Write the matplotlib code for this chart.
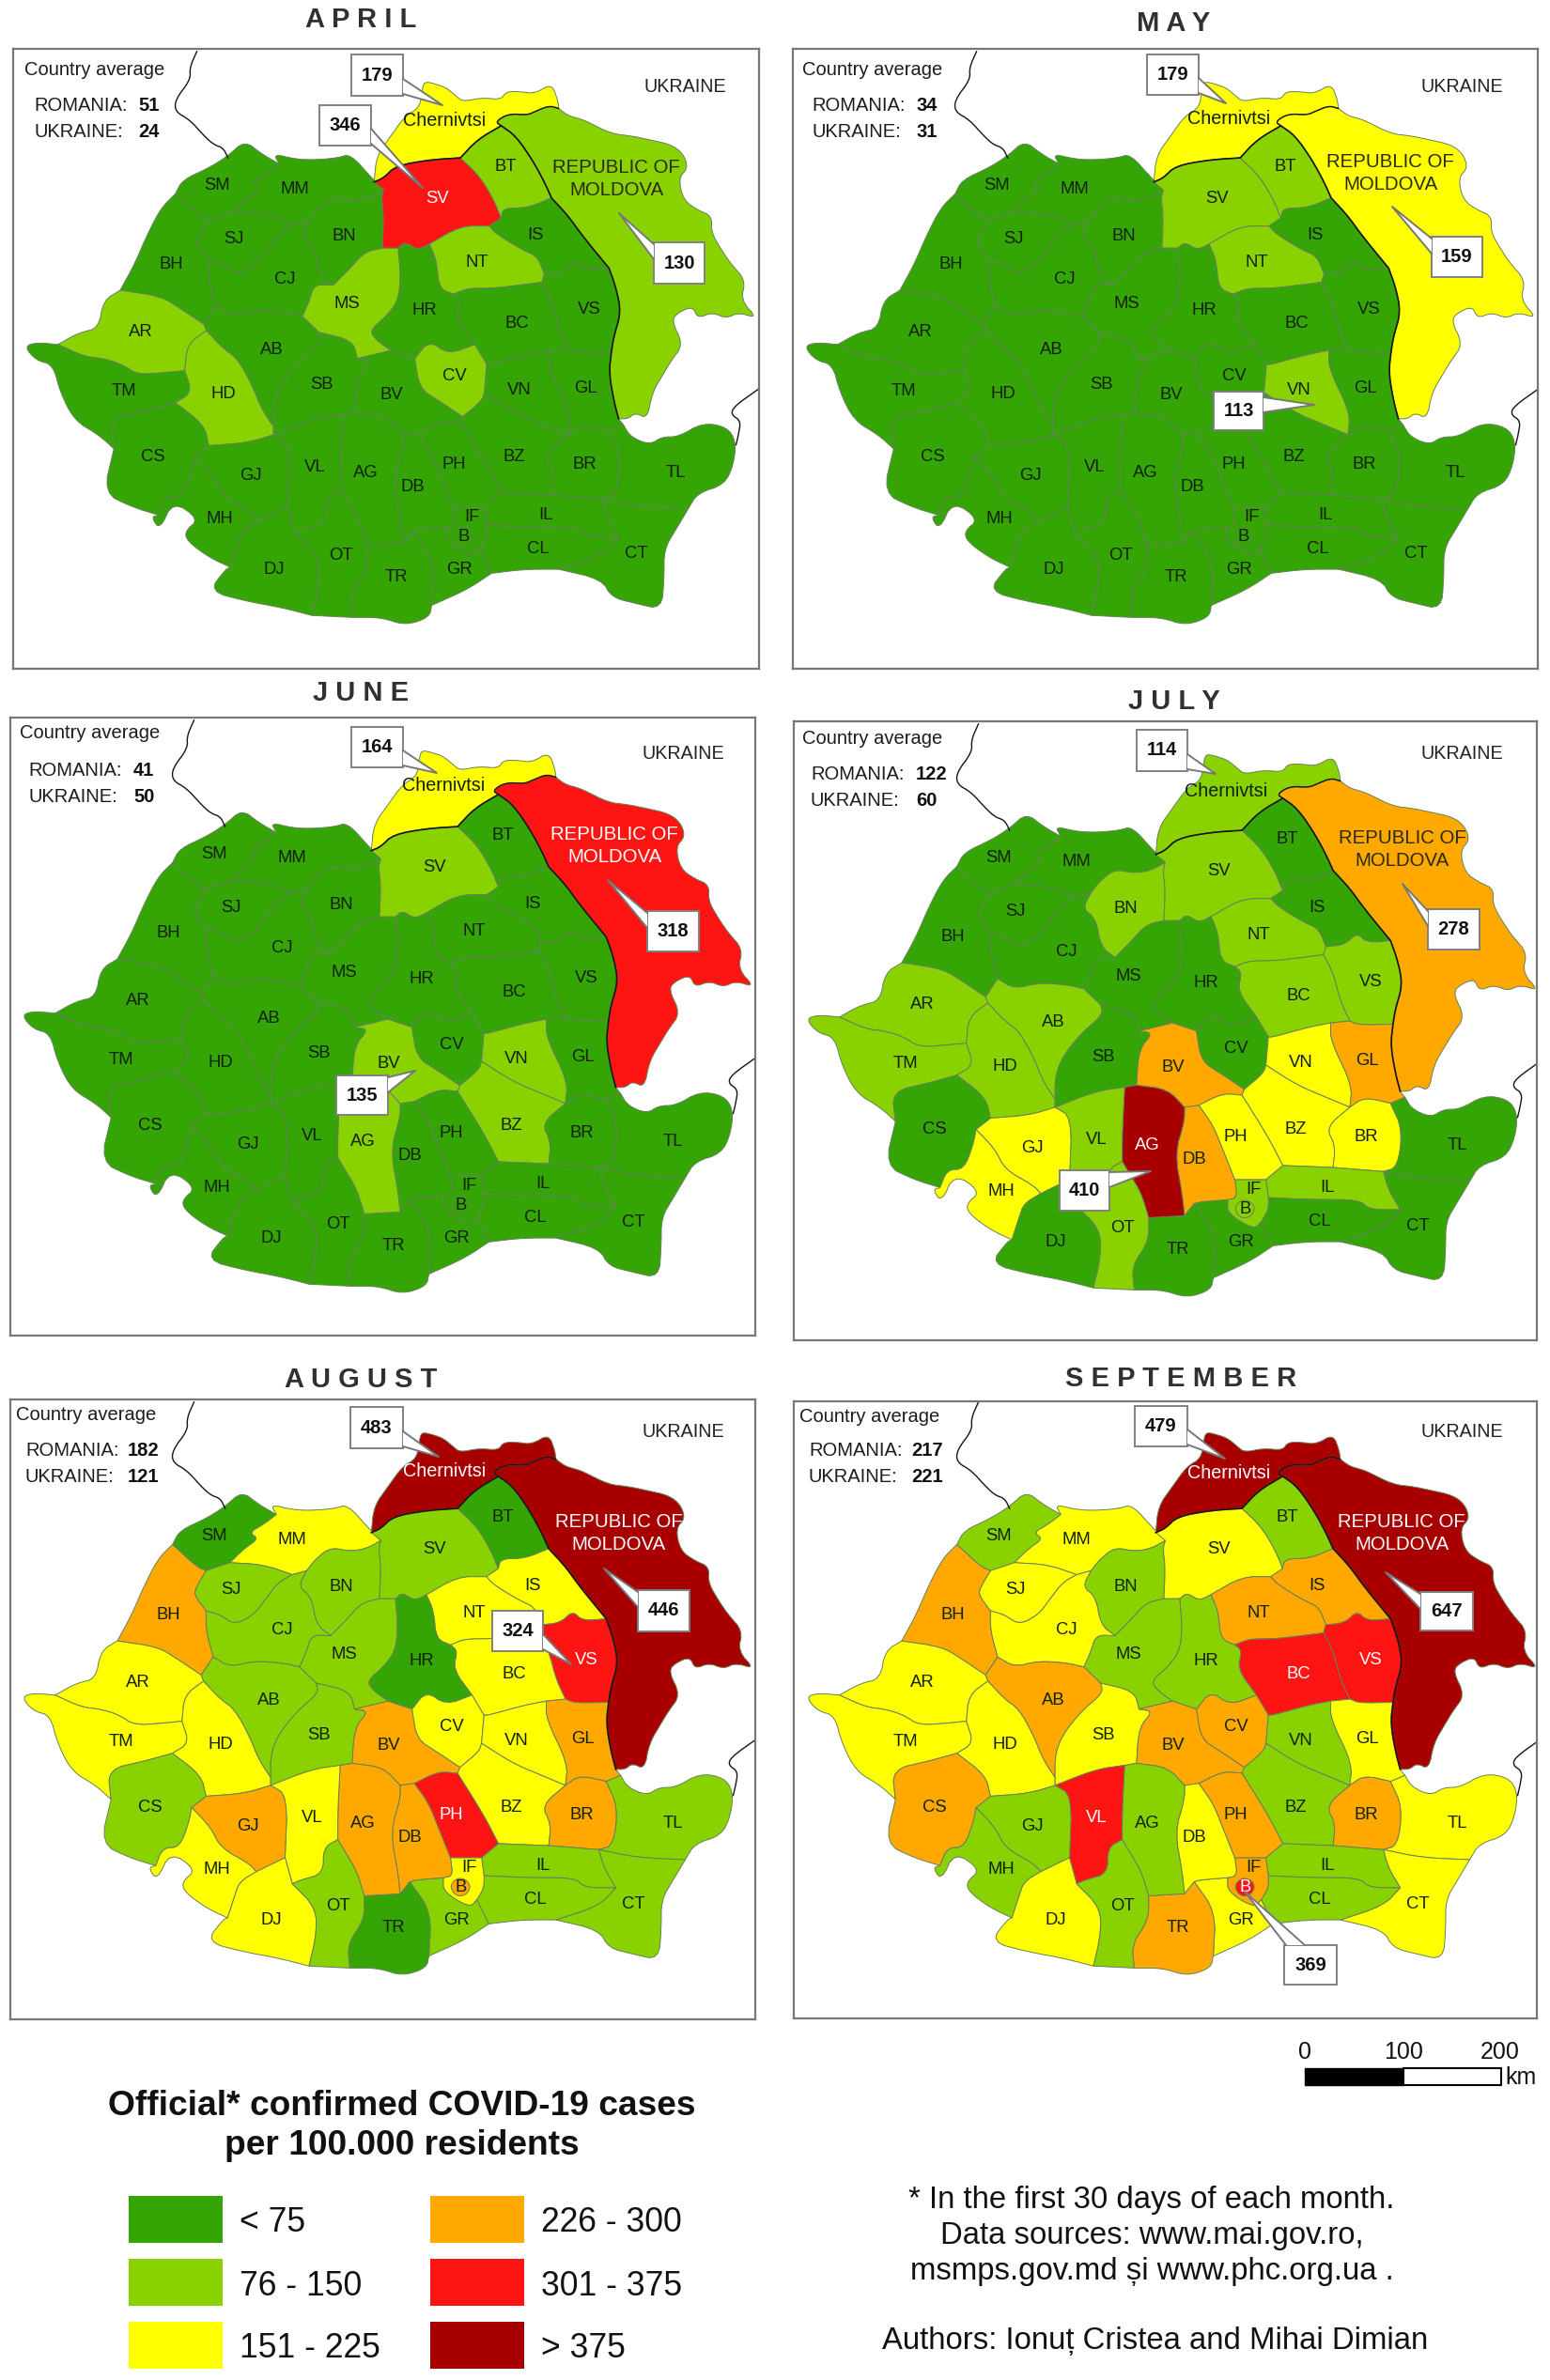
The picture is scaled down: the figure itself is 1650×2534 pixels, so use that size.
import matplotlib
matplotlib.use("Agg")
import matplotlib.pyplot as plt
from matplotlib.collections import PolyCollection
from matplotlib.colors import ListedColormap, BoundaryNorm
from matplotlib.patches import Polygon, Rectangle

plt.rcParams['font.family'] = ['Liberation Sans', 'DejaVu Sans']

W, H = 1650, 2534

# classes of the legend
BAND_LABELS = ["< 75", "76 - 150", "151 - 225", "226 - 300", "301 - 375", "> 375"]
BAND_COLORS = ["#35a505", "#8ad100", "#ffff00", "#ffa800", "#ff1414", "#a80000"]

MONTHS = ["APRIL", "MAY", "JUNE", "JULY", "AUGUST", "SEPTEMBER"]
ROMANIA_AVG = [51, 34, 41, 122, 182, 217]
UKRAINE_AVG = [24, 31, 50, 60, 121, 221]

NAMES = ["MD", "CV_UA", "SM", "MM", "BN", "SV", "BT", "IS", "NT", "VS", "BC", "HR", "MS", "SJ", "CJ", "BH",
         "AR", "TM", "HD", "AB", "SB", "BV", "CV", "VN", "BZ", "GL", "BR", "TL", "CT", "IL", "CL", "IF",
         "GR", "TR", "DB", "PH", "AG", "VL", "GJ", "CS", "MH", "DJ", "OT", "B"]

#             MD CU SM MM BN SV BT IS NT VS BC HR MS SJ CJ BH AR TM HD AB SB BV CV VN BZ GL BR TL CT IL CL IF GR TR DB PH AG VL GJ CS MH DJ OT B
APRIL_BAND = [1, 2, 0, 0, 0, 4, 1, 0, 1, 0, 0, 0, 1, 0, 0, 0, 1, 0, 1, 0, 0, 0, 1, 0, 0, 0, 0, 0, 0, 0, 0, 0, 0, 0, 0, 0, 0, 0, 0, 0, 0, 0, 0, 0]
MAY_BAND =   [2, 2, 0, 0, 0, 1, 1, 0, 1, 0, 0, 0, 0, 0, 0, 0, 0, 0, 0, 0, 0, 0, 0, 1, 0, 0, 0, 0, 0, 0, 0, 0, 0, 0, 0, 0, 0, 0, 0, 0, 0, 0, 0, 0]
JUNE_BAND =  [4, 2, 0, 0, 0, 1, 0, 0, 0, 0, 0, 0, 0, 0, 0, 0, 0, 0, 0, 0, 0, 1, 0, 1, 1, 0, 0, 0, 0, 0, 0, 0, 0, 0, 0, 0, 1, 0, 0, 0, 0, 0, 0, 0]
JULY_BAND =  [3, 1, 0, 0, 1, 1, 0, 0, 1, 1, 1, 0, 0, 0, 0, 0, 1, 1, 1, 1, 0, 3, 0, 2, 2, 3, 2, 0, 0, 1, 0, 1, 0, 0, 3, 2, 5, 1, 2, 0, 2, 0, 1, 1]
AUG_BAND =   [5, 5, 0, 2, 1, 1, 0, 2, 2, 4, 2, 0, 1, 1, 1, 3, 2, 2, 2, 1, 1, 3, 2, 2, 2, 3, 3, 1, 1, 1, 1, 2, 1, 0, 3, 4, 3, 2, 3, 1, 2, 2, 1, 3]
SEP_BAND =   [5, 5, 1, 2, 1, 2, 1, 3, 3, 4, 4, 1, 1, 2, 2, 3, 2, 2, 2, 3, 2, 3, 3, 1, 1, 2, 3, 2, 2, 1, 1, 3, 2, 3, 2, 3, 1, 4, 1, 3, 1, 2, 1, 4]
MONTH_BANDS = [APRIL_BAND, MAY_BAND, JUNE_BAND, JULY_BAND, AUG_BAND, SEP_BAND]

# callouts: value, box (left, right, top, bottom), tip, all in picture pixels
CALLOUTS = [
    [(179, 374, 429, 58, 102, 471, 112), (346, 340, 395, 112, 155, 450, 200), (130, 696, 750, 258, 302, 659, 227)],
    [(179, 1221, 1276, 58, 101, 1305, 110), (159, 1524, 1578, 252, 295, 1482, 220), (113, 1292, 1345, 417, 458, 1399, 431)],
    [(164, 374, 429, 774, 817, 465, 823), (318, 689, 744, 970, 1013, 647, 937), (135, 358, 413, 1145, 1187, 442, 1140)],
    [(114, 1210, 1264, 777, 821, 1294, 824), (278, 1520, 1575, 968, 1011, 1493, 941), (410, 1128, 1181, 1246, 1289, 1225, 1247)],
    [(483, 373, 429, 1498, 1542, 467, 1551), (446, 679, 734, 1693, 1737, 643, 1670), (324, 524, 578, 1715, 1758, 608, 1772)],
    [(479, 1208, 1264, 1497, 1540, 1304, 1553), (647, 1512, 1568, 1695, 1736, 1475, 1674), (369, 1367, 1423, 2071, 2113, 1325, 2014)],
]

# county outlines, traced on the September panel
SHAPES = {
    "MD": [(1030,215),(1018,205),(1045,185),(1085,188),(1100,180),(1130,165),(1150,172),(1170,190),(1195,198),(1210,205),(1260,235),(1300,240),(1340,250),
           (1385,262),(1410,285),(1420,320),(1400,345),(1410,400),(1440,425),(1470,440),(1468,480),(1490,525),(1510,560),(1540,600),(1530,650),(1565,695),
           (1525,680),(1500,695),(1470,680),(1440,695),(1430,665),(1400,680),(1385,700),(1410,760),(1385,800),(1370,830),(1345,880),(1335,945),(1310,930),(1295,945),
           (1275,945),(1265,900),(1255,830),(1260,778),(1265,740),(1280,680),(1270,620),(1255,570),(1200,490),(1170,440),(1135,395),(1120,355),(1095,300),(1060,240)],
    "CV_UA": [(865,125),(870,105),(890,110),(915,120),(935,140),(950,155),(990,145),(1030,150),(1040,130),(1070,130),(1100,135),(1135,110),(1148,150),(1150,172),(1130,165),
              (1100,180),(1085,188),(1045,185),(1018,205),(1030,215),(980,250),(945,295),(880,300),(810,315),(785,345),(765,355),(770,290),(800,240),(830,190),(860,170)],
    "SM": [(350,385),(365,350),(420,320),(460,290),(495,252),(530,285),(567,310),(540,335),(510,355),(530,370),(500,395),(470,430),(420,450),(400,440),(355,390)],
    "MM": [(567,310),(555,285),(600,298),(640,300),(690,295),(715,285),(760,345),(785,375),(755,395),(720,402),(680,392),(650,420),(630,450),(600,460),(540,435),(470,430),(500,395),(530,370),(510,355),(540,335)],
    "BN": [(680,392),(720,402),(755,395),(785,375),(780,395),(785,440),(782,520),(745,530),(715,570),(680,612),(650,585),(640,515),(612,490),(630,450),(650,420)],
    "SV": [(785,375),(765,355),(785,345),(810,315),(880,300),(945,295),(985,340),(1015,400),(1030,445),(1005,465),(945,465),(880,510),(855,525),(830,505),(815,520),(782,520),(785,440),(780,395)],
    "BT": [(945,295),(980,250),(1030,215),(1060,240),(1095,300),(1120,355),(1135,395),(1085,420),(1035,420),(1030,445),(1015,400),(985,340)],
    "IS": [(1035,420),(1085,420),(1135,395),(1170,440),(1200,490),(1255,570),(1205,575),(1185,550),(1160,580),(1120,585),(1105,540),(1075,525),(1020,485),(1005,465),(1030,445)],
    "NT": [(880,510),(945,465),(1005,465),(1020,485),(1075,525),(1105,540),(1120,585),(1115,605),(1050,615),(1010,620),(960,620),(930,635),(900,620),(895,550)],
    "VS": [(1120,585),(1160,580),(1185,550),(1205,575),(1255,570),(1270,620),(1280,680),(1265,740),(1260,778),(1190,780),(1170,770),(1150,720),(1135,650),(1115,605)],
    "BC": [(930,635),(960,620),(1010,620),(1050,615),(1115,605),(1135,650),(1150,720),(1170,770),(1130,775),(1085,785),(1010,810),(1000,810),(975,760),(935,695),(945,650)],
    "HR": [(815,520),(830,505),(855,525),(880,510),(895,550),(900,620),(930,635),(945,650),(935,695),(975,760),(920,785),(880,750),(850,795),(800,775),(770,750),(755,725),(790,690),(815,650),(820,590)],
    "MS": [(782,520),(815,520),(820,590),(815,650),(790,690),(755,725),(770,750),(800,775),(730,795),(720,750),(650,730),(615,690),(630,650),(640,610),(680,612),(715,570),(745,530)],
    "SJ": [(400,490),(420,450),(470,430),(540,435),(600,460),(570,480),(545,520),(520,560),(480,585),(450,560),(420,550),(395,510)],
    "CJ": [(600,460),(630,450),(612,490),(640,515),(650,585),(680,612),(640,610),(630,650),(615,690),(580,680),(520,675),(470,690),(435,665),(420,600),(420,550),(450,560),(480,585),(520,560),(545,520),(570,480)],
    "BH": [(350,385),(355,390),(400,440),(420,450),(400,490),(395,510),(420,550),(420,600),(435,665),(410,710),(360,670),(320,640),(235,625),(265,560),(290,490),(320,420)],
    "AR": [(235,625),(320,640),(360,670),(410,710),(415,725),(375,760),(370,825),(330,830),(270,835),(240,810),(200,795),(160,790),(105,760),(150,730),(190,720),(200,650)],
    "TM": [(35,765),(60,755),(105,760),(160,790),(200,795),(240,810),(270,835),(330,830),(370,825),(385,880),(350,905),(290,925),(215,945),(222,1020),(190,985),(140,950),(110,880),(95,810),(60,800)],
    "HD": [(375,760),(415,725),(450,770),(480,795),(510,860),(530,920),(555,965),(555,985),(500,1005),(420,1012),(410,960),(350,905),(385,880),(370,825)],
    "AB": [(410,710),(435,665),(470,690),(520,675),(580,680),(615,690),(650,730),(655,755),(610,800),(570,860),(555,910),(555,965),(530,920),(510,860),(480,795),(450,770),(415,725)],
    "SB": [(650,730),(720,750),(730,795),(760,800),(730,840),(725,930),(700,935),(640,945),(555,985),(555,965),(555,910),(570,860),(610,800),(655,755)],
    "BV": [(730,795),(800,775),(850,795),(860,870),(900,900),(950,940),(945,955),(905,950),(855,980),(825,985),(790,940),(725,930),(730,840),(760,800)],
    "CV": [(850,795),(880,750),(920,785),(975,760),(1000,810),(995,880),(990,900),(950,940),(900,900),(860,870)],
    "VN": [(1000,810),(1010,810),(1085,785),(1130,775),(1130,820),(1175,930),(1170,985),(1120,960),(1060,930),(995,880)],
    "BZ": [(950,940),(990,900),(995,880),(1060,930),(1120,960),(1170,985),(1120,1035),(1140,1080),(1135,1135),(1030,1130),(1000,1060),(945,955)],
    "GL": [(1130,775),(1170,770),(1190,780),(1260,778),(1255,830),(1265,900),(1275,945),(1285,960),(1255,975),(1200,960),(1170,985),(1175,930),(1130,820)],
    "BR": [(1170,985),(1200,960),(1255,975),(1280,1040),(1270,1135),(1240,1145),(1135,1135),(1140,1080),(1120,1035)],
    "TL": [(1255,975),(1285,960),(1300,990),(1340,1010),(1365,990),(1400,990),(1450,955),(1500,965),(1520,1000),(1515,1060),(1495,1110),(1440,1130),(1420,1170),(1320,1165),(1240,1145),(1270,1135),(1280,1040)],
    "CT": [(1240,1145),(1320,1165),(1420,1170),(1395,1220),(1370,1270),(1370,1340),(1365,1420),(1310,1405),(1260,1390),(1240,1345),(1150,1320),(1240,1285),(1275,1240),(1250,1190)],
    "IL": [(1030,1130),(1135,1135),(1240,1145),(1250,1190),(1275,1240),(1210,1240),(1190,1215),(1090,1215),(1000,1210),(995,1165)],
    "CL": [(1000,1210),(1090,1215),(1190,1215),(1210,1240),(1275,1240),(1240,1285),(1150,1320),(1080,1320),(1010,1330),(985,1270),(1000,1240)],
    "IF": [(930,1165),(995,1165),(1000,1210),(1000,1240),(985,1270),(970,1290),(915,1250),(915,1215),(935,1210)],
    "GR": [(860,1220),(915,1215),(915,1250),(970,1290),(985,1270),(1010,1330),(960,1370),(885,1410),(890,1300),(845,1225)],
    "TR": [(825,1255),(845,1225),(890,1300),(885,1410),(880,1440),(830,1460),(780,1440),(720,1440),(715,1380),(750,1320),(750,1260)],
    "DB": [(825,985),(855,980),(885,1030),(905,1090),(930,1165),(935,1210),(915,1215),(860,1220),(845,1225),(825,1255),(820,1200),(805,1100),(825,1020)],
    "PH": [(855,980),(905,950),(945,955),(1000,1060),(1030,1130),(995,1165),(930,1165),(905,1090),(885,1030)],
    "AG": [(700,935),(725,930),(790,940),(825,985),(825,1020),(805,1100),(820,1200),(825,1255),(750,1260),(735,1200),(710,1150),(695,1120),(695,1050)],
    "VL": [(555,985),(640,945),(700,935),(695,1050),(695,1120),(665,1140),(665,1205),(620,1220),(600,1230),(585,1165),(590,1010)],
    "GJ": [(390,1040),(420,1012),(500,1005),(555,985),(590,1010),(585,1165),(525,1200),(510,1180),(450,1140),(430,1090)],
    "CS": [(215,945),(290,925),(350,905),(410,960),(420,1012),(390,1040),(385,1075),(365,1140),(330,1140),(315,1185),(260,1165),(200,1130),(222,1020)],
    "MH": [(390,1040),(430,1090),(450,1140),(510,1180),(525,1200),(490,1225),(480,1260),(465,1315),(420,1290),(375,1250),(370,1225),(400,1195),(345,1150),(318,1222),(300,1190),(315,1185),(330,1140),(365,1140),(385,1075)],
    "DJ": [(480,1260),(490,1225),(525,1200),(585,1165),(600,1230),(650,1290),(650,1360),(635,1435),(570,1415),(500,1400),(420,1375),(455,1320),(465,1315)],
    "OT": [(600,1230),(620,1220),(665,1205),(665,1140),(695,1120),(710,1150),(735,1200),(750,1260),(750,1320),(715,1380),(720,1440),(635,1435),(650,1360),(650,1290)],
    "B": [(930,1237),(937,1222),(950,1215),(965,1222),(972,1237),(965,1255),(950,1262),(937,1255)],
}

PRUT_LINE = [(765,355),(785,345),(810,315),(880,300),(945,295),(980,250),(1030,215),(1060,240),(1095,300),(1120,355),(1135,395),(1170,440),
             (1200,490),(1255,570),(1270,620),(1280,680),(1265,740),(1260,778),(1255,830),(1265,900),(1275,945)]
NORTH_LINE = [(1030,215),(1018,205),(1045,185),(1085,188),(1100,180),(1130,165),(1150,172)]
WEST_BORDER = [(395,30),(380,70),(382,100),(350,150),(350,180),(380,200),(410,240),(430,262),(450,270),(460,295)]
EAST_BORDER = [(1568,870),(1515,915),(1510,935),(1530,950),(1525,985),(1520,1010)]

LABEL_POS = {
    "SM": (437,365), "MM": (600,373), "BH": (342,560), "SJ": (472,498), "CJ": (578,597), "BN": (703,490), "SV": (897,397),
    "BT": (1040,316), "IS": (1102,488), "NT": (980,555), "MS": (708,658), "HR": (870,675), "BC": (1062,708), "VS": (1213,672),
    "AR": (278,728), "AB": (552,773), "TM": (243,876), "HD": (450,884), "SB": (656,860), "BV": (802,885), "CV": (933,838),
    "VN": (1068,875), "GL": (1207,870), "CS": (304,1040), "GJ": (508,1087), "VL": (642,1065), "AG": (748,1080), "DB": (846,1115),
    "PH": (932,1060), "BZ": (1058,1040), "BR": (1205,1058), "TL": (1395,1080), "IF": (970,1190), "IL": (1122,1185), "B": (952,1240),
    "MH": (443,1195), "DJ": (556,1320), "OT": (695,1285), "TR": (812,1340), "GR": (943,1320), "CL": (1107,1270), "CT": (1312,1280),
}


def to_map(pts):
    # trace coordinates to September panel pixels
    return [(840 + x / 1.96, 1480 + y / 2.34) for x, y in pts]


# a vertex with more than two neighbours is a junction of borders and must not move
neighbours = {}
for shape in SHAPES.values():
    for k, p in enumerate(shape):
        neighbours.setdefault(p, set()).update([shape[k - 1], shape[(k + 1) % len(shape)]])
FIXED = {p for p, near in neighbours.items() if len(near) > 2}


def smooth(pts, closed=True, passes=2):
    # corner cutting, so the hand traced borders are not angular
    for _ in range(passes):
        out = []
        n = len(pts)
        for k in range(n if closed else n - 1):
            p, q = pts[k], pts[(k + 1) % n]
            if p in FIXED or (not closed and k == 0):
                out.append(p)
            out.append((p[0] + (q[0] - p[0]) * 0.25, p[1] + (q[1] - p[1]) * 0.25))
            out.append((p[0] + (q[0] - p[0]) * 0.75, p[1] + (q[1] - p[1]) * 0.75))
        if not closed:
            out.append(pts[-1])
        pts = out
    return pts


# frame left, right, top, bottom and map shift of each panel
FRAMES = [(14, 808, 52, 712), (844, 1637, 52, 712), (11, 804, 764, 1422), (845, 1636, 768, 1427), (11, 804, 1490, 2150), (845, 1636, 1492, 2149)]
SHIFTS = [(-832, -1438), (-2, -1438), (-835, -726), (0, -722), (-835, 0), (0, 0)]
TITLE_POS = [(384, 21), (1249, 25), (384, 738), (1250, 747), (384, 1469), (1257, 1468)]
# left of text, left of value, y of heading, y of the two lines
AVG_POS = [(26, 36, 147, 75, 112, 140), (854, 864, 975, 74, 112, 140), (21, 30, 142, 781, 820, 849),
           (854, 863, 975, 786, 825, 852), (17, 27, 136, 1507, 1545, 1573), (851, 861, 970, 1508, 1545, 1573)]
UKRAINE_POS = [(729, 93), (1556, 92), (727, 803), (1556, 802), (727, 1524), (1556, 1525)]
MOLDOVA_POS = [(656, 179), (1480, 172), (654, 888), (1493, 892), (659, 1620), (1492, 1621)]
CHERNIVTSI_POS = [(473, 128), (1308, 126), (472, 837), (1305, 843), (473, 1566), (1308, 1569)]

fig = plt.figure(figsize=(W / 100, H / 100), dpi=100, facecolor="white")

cmap = ListedColormap(BAND_COLORS)
norm = BoundaryNorm([-0.5, 0.5, 1.5, 2.5, 3.5, 4.5, 5.5], cmap.N)
polys = [to_map(smooth(SHAPES[n])) for n in NAMES]

for i, month in enumerate(MONTHS):
    l, r, t, b = FRAMES[i]
    dx, dy = SHIFTS[i]
    ax = fig.add_axes([l / W, 1 - b / H, (r - l) / W, (b - t) / H])
    ax.set_xlim(l - dx, r - dx)
    ax.set_ylim(b - dy, t - dy)
    ax.set_xticks([])
    ax.set_yticks([])
    for s in ax.spines.values():
        s.set_color("#777777")
        s.set_linewidth(1.6)

    pc = PolyCollection(polys, array=MONTH_BANDS[i], cmap=cmap, norm=norm, edgecolors="#66805a", linewidths=0.7)
    ax.add_collection(pc)

    for line, lw in [(PRUT_LINE, 1.2), (NORTH_LINE, 1.0), (WEST_BORDER, 1.0), (EAST_BORDER, 1.0)]:
        xs, ys = zip(*to_map(smooth(line, closed=False)))
        ax.plot(xs, ys, color="#151515", lw=lw)

    bands = dict(zip(NAMES, MONTH_BANDS[i]))
    for name, pos in LABEL_POS.items():
        x, y = to_map([pos])[0]
        label_color = "white" if bands[name] >= 4 else "#10200c"
        ax.text(x, y, name, ha="center", va="center", fontsize=13.3, color=label_color)

# everything else is placed in picture pixels
top = fig.add_axes([0, 0, 1, 1], facecolor="none")
top.set_xlim(0, W)
top.set_ylim(H, 0)
top.axis("off")

for i, month in enumerate(MONTHS):
    bands = dict(zip(NAMES, MONTH_BANDS[i]))
    tx, ty = TITLE_POS[i]
    top.text(tx, ty, " ".join(month), ha="center", va="center", fontsize=21, fontweight="bold", color="#303030")
    x0, x1, x2, y0, y1, y2 = AVG_POS[i]
    top.text(x0, y0, "Country average", ha="left", va="center", fontsize=14.5, color="#1c1c1c")
    top.text(x1, y1, "ROMANIA:", ha="left", va="center", fontsize=14.5, color="#1c1c1c")
    top.text(x1, y2, "UKRAINE:", ha="left", va="center", fontsize=14.5, color="#1c1c1c")
    top.text(x2, y1, str(ROMANIA_AVG[i]), ha="left", va="center", fontsize=14.5, fontweight="bold", color="#111111")
    top.text(x2, y2, str(UKRAINE_AVG[i]), ha="left", va="center", fontsize=14.5, fontweight="bold", color="#111111")

    x, y = CHERNIVTSI_POS[i]
    top.text(x, y, "Chernivtsi", ha="center", va="center", fontsize=14.2, color="white" if bands["CV_UA"] >= 4 else "#10200c")
    x, y = MOLDOVA_POS[i]
    mold_color = "white" if bands["MD"] >= 4 else "#2a2a10"
    top.text(x, y, "REPUBLIC OF", ha="center", va="center", fontsize=14.7, color=mold_color)
    top.text(x, y + 24, "MOLDOVA", ha="center", va="center", fontsize=14.7, color=mold_color)
    x, y = UKRAINE_POS[i]
    top.text(x, y, "UKRAINE", ha="center", va="center", fontsize=14.2, color="#222222")

    for val, bl, br, bt, bb, tipx, tipy in CALLOUTS[i]:
        top.add_patch(Rectangle((bl, bt), br - bl, bb - bt, fc="white", ec="#808080", lw=1.4, zorder=5))
        # pointer leaves the box at the nearest edge point
        nx = min(max(tipx, bl), br)
        ny = min(max(tipy, bt), bb)
        if bl < tipx < br or (tipx < bl or tipx > br) and not (bt < tipy < bb) and abs(tipy - ny) > abs(tipx - nx):
            nx = min(max(nx, bl + 12), br - 12)
            a, c = (nx - 10, ny), (nx + 10, ny)
        else:
            ny = min(max(ny, bt + 10), bb - 10)
            a, c = (nx, ny - 8), (nx, ny + 8)
        top.add_patch(Polygon([a, (tipx, tipy), c], closed=True, fc="white", ec="none", zorder=6))
        top.plot([a[0], tipx, c[0]], [a[1], tipy, c[1]], color="#777777", lw=1.4, zorder=6)
        top.text((bl + br) / 2, (bt + bb) / 2, str(val), ha="center", va="center", fontsize=14.5, fontweight="bold", color="#111111", zorder=7)

# legend
top.text(428, 2243, "Official* confirmed COVID-19 cases", ha="center", va="center", fontsize=26.7, fontweight="bold", color="#111111")
top.text(428, 2285, "per 100.000 residents", ha="center", va="center", fontsize=26.7, fontweight="bold", color="#111111")
swatch_x = [137, 137, 137, 458, 458, 458]
swatch_y = [2338, 2405, 2472, 2338, 2405, 2472]
for j, label in enumerate(BAND_LABELS):
    top.add_patch(Rectangle((swatch_x[j], swatch_y[j]), 100, 50, fc=BAND_COLORS[j], ec="none"))
    top.text(swatch_x[j] + 118, swatch_y[j] + 29, label, ha="left", va="center", fontsize=25.6, color="#111111")

# scale bar
top.add_patch(Rectangle((1389, 2202), 105, 18, fc="black", ec="black", lw=1))
top.add_patch(Rectangle((1494, 2202), 104, 18, fc="white", ec="black", lw=1.5))
for km, x in zip([0, 100, 200], [1389, 1494, 1597]):
    top.text(x, 2185, str(km), ha="center", va="center", fontsize=18, color="#111111")
top.text(1602, 2212, "km", ha="left", va="center", fontsize=18, color="#111111")

# notes
notes = ["* In the first 30 days of each month.", "Data sources: www.mai.gov.ro,", "msmps.gov.md și www.phc.org.ua ."]
for line, y in zip(notes, [2342, 2380, 2418]):
    top.text(1226, y, line, ha="center", va="center", fontsize=23.7, color="#111111")
top.text(1230, 2492, "Authors: Ionuț Cristea and Mihai Dimian", ha="center", va="center", fontsize=23.7, color="#111111")

fig.savefig("out.png", dpi=100)
